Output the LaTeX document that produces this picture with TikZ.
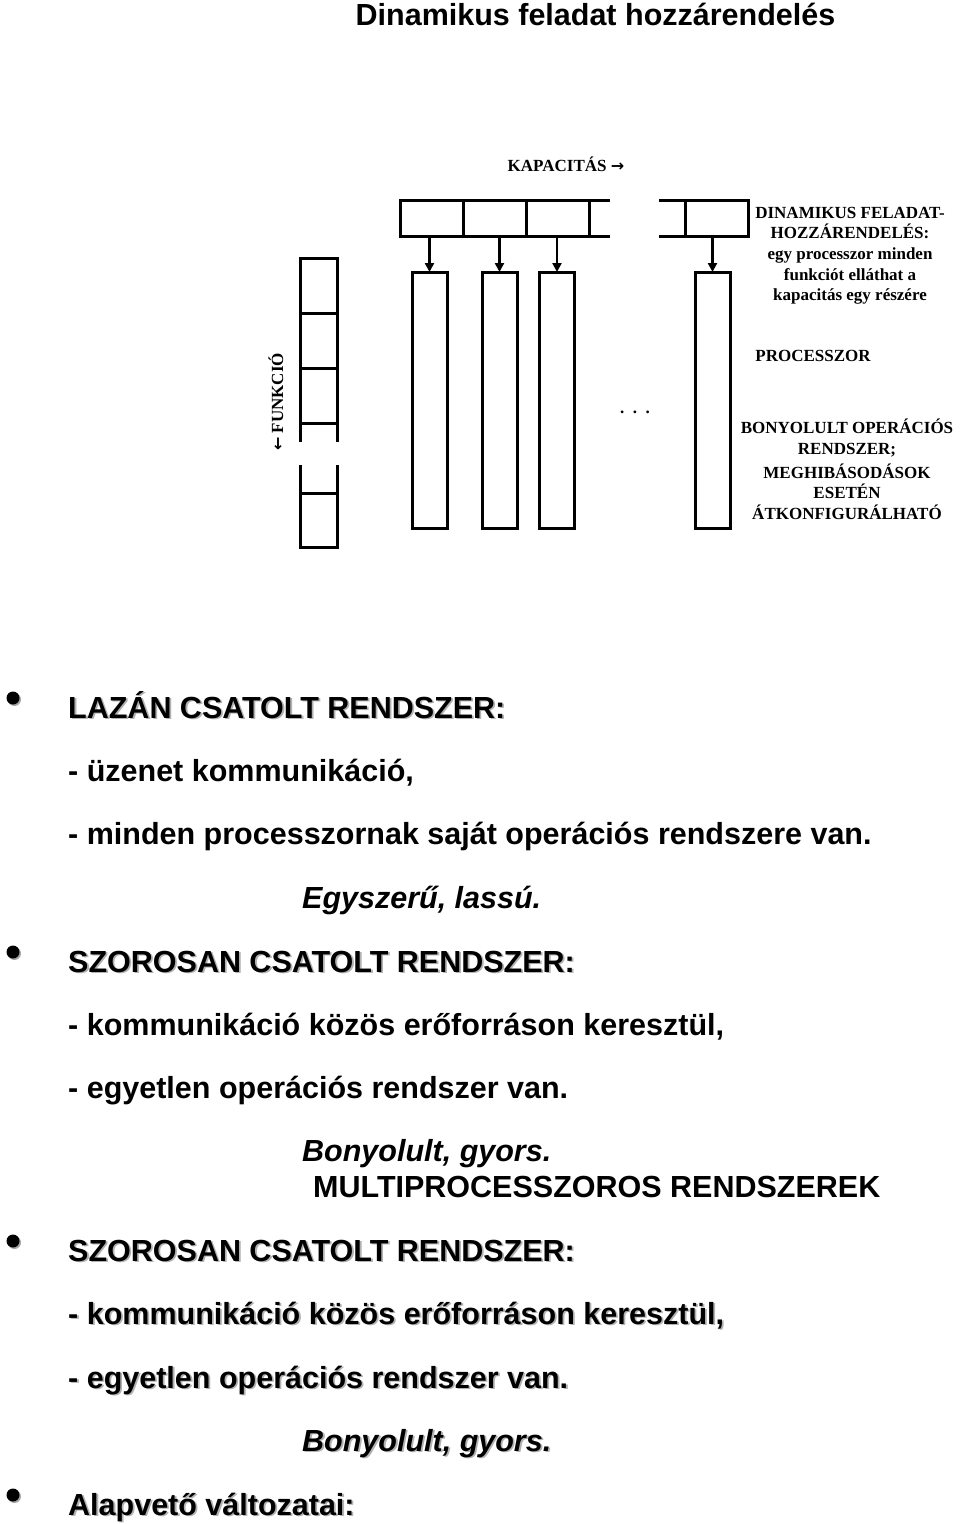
\documentclass[tikz,border=0pt]{standalone}
\usepackage{fontspec}
\setmainfont{Liberation Serif}
\setsansfont{Liberation Sans}
\newfontfamily\arrowfont{DejaVu Sans}
\usetikzlibrary{arrows.meta,shadows}

% gray copy of a text, offset down and right
\newcommand\shadowed[1]{\makebox[0pt][l]{\kern1.8pt\raisebox{-1.8pt}{\textcolor{black!30}{#1}}}#1}

\tikzset{
  barcell/.style={draw, line width=3pt, minimum width=63pt, minimum height=36pt, inner sep=0pt, outer sep=0pt},
  funcell/.style={draw, line width=3pt, minimum width=37pt, minimum height=55pt, inner sep=0pt, outer sep=0pt},
  proc/.style={draw, line width=3pt, minimum width=35pt, minimum height=256pt, inner sep=0pt, outer sep=0pt},
  feed/.style={-{Triangle[length=9pt,width=9pt]}, line width=2.5pt},
  lbl/.style={font=\bfseries\fontsize{17}{20}\selectfont, inner sep=0pt, anchor=base},
  body/.style={font=\sffamily\bfseries\fontsize{30.5}{36}\selectfont, inner sep=0pt, anchor=base west},
  verdict/.style={body, font=\sffamily\bfseries\itshape\fontsize{30.5}{36}\selectfont},
  bullet/.style={circle, fill=black, minimum size=13pt, inner sep=0pt,
    drop shadow={shadow xshift=1.5pt, shadow yshift=-1.5pt, fill=black!35, opacity=1}}
}

\begin{document}
\begin{tikzpicture}[x=1pt, y=-1pt]
\useasboundingbox (0,0) rectangle (960,1524);

\node[font=\sffamily\bfseries\fontsize{30.5}{36}\selectfont, inner sep=0pt, anchor=base] (title) at (595.5,25) {Dinamikus feladat hozzárendelés};

% capacity bar
\node[barcell] (k1) at (431.5,218) {};
\node[barcell] (k2) at (494.5,218) {};
\node[barcell] (k3) at (558,218) {};
\node[barcell] (k4) at (716.5,218) {};
\draw[line width=3pt] (k3.north east) -- ++(20,0) (k3.south east) -- ++(20,0);
\draw[line width=3pt] (k4.north west) -- ++(-26,0) (k4.south west) -- ++(-26,0);

% processors
\node[proc] (p1) at (429.5,400) {};
\node[proc] (p2) at (499.5,400) {};
\node[proc] (p3) at (557,400) {};
\node[proc] (p4) at (712.5,400) {};
\foreach \i in {1,...,4}
  \draw[feed] (p\i.north |- k\i.south) -- (p\i.north);

% function column
\node[funcell] (f1) at (318.5,285.5) {};
\node[funcell] (f2) at (318.5,340.5) {};
\node[funcell] (f3) at (318.5,395.5) {};
\node[funcell, minimum height=54pt] (f4) at (318.5,520) {};
\draw[line width=3pt] (f3.south west) -- ++(0,19) (f3.south east) -- ++(0,19);
\draw[line width=3pt] (f4.north west) -- ++(0,-28) (f4.north east) -- ++(0,-28);

% labels
\node[lbl] (cap) at (566,171) {KAPACITÁS {\arrowfont\bfseries\fontsize{16}{16}\selectfont →}};
\node[lbl, anchor=center, rotate=90] (fun) at (276,402) {{\arrowfont\bfseries\fontsize{16}{16}\selectfont ←} FUNKCIÓ};
\node[lbl] (dots) at (635,413) {.\hspace{8.5pt}.\hspace{8.5pt}.};
\foreach \y/\txt [count=\i] in {218/{DINAMIKUS FELADAT-}, 238/{HOZZÁRENDELÉS:}, 259/{egy processzor minden}, 280/{funkciót elláthat a}, 300/{kapacitás egy részére}}
  \node[lbl] (dyn\i) at (850,\y) {\txt};
\node[lbl] (proclbl) at (813,361) {PROCESSZOR};
\foreach \y/\txt [count=\i] in {433/{BONYOLULT OPERÁCIÓS}, 454/{RENDSZER;}, 478/{MEGHIBÁSODÁSOK}, 498/{ESETÉN}, 519/{ÁTKONFIGURÁLHATÓ}}
  \node[lbl] (os\i) at (847,\y) {\txt};

% loosely coupled
\node[bullet] (b1) at (13,698) {};
\node[body] (loose) at (68,718) {\shadowed{LAZÁN CSATOLT RENDSZER:}};
\node[body] (loose1) at (68,781) {- üzenet kommunikáció,};
\node[body] (loose2) at (68,844) {- minden processzornak saját operációs rendszere van.};
\node[verdict] (loose3) at (302,908) {Egyszerű, lassú.};

% tightly coupled
\node[bullet] (b2) at (13,952) {};
\node[body] (tight) at (68,972) {\shadowed{SZOROSAN CSATOLT RENDSZER:}};
\node[body] (tight1) at (68,1035) {- kommunikáció közös erőforráson keresztül,};
\node[body] (tight2) at (68,1098) {- egyetlen operációs rendszer van.};
\node[verdict] (tight3) at (302,1161) {Bonyolult, gyors.};
\node[body] (multi) at (313,1197) {MULTIPROCESSZOROS RENDSZEREK};

% tightly coupled, repeated
\node[bullet] (b3) at (13,1241) {};
\node[body] (tightb) at (68,1261) {\shadowed{SZOROSAN CSATOLT RENDSZER:}};
\node[body] (tightb1) at (68,1324) {\shadowed{- kommunikáció közös erőforráson keresztül,}};
\node[body] (tightb2) at (68,1388) {\shadowed{- egyetlen operációs rendszer van.}};
\node[verdict] (tightb3) at (302,1451) {\shadowed{Bonyolult, gyors.}};

\node[bullet] (b4) at (13,1495) {};
\node[body] (basic) at (68,1515) {\shadowed{Alapvető változatai:}};
\end{tikzpicture}
\end{document}
